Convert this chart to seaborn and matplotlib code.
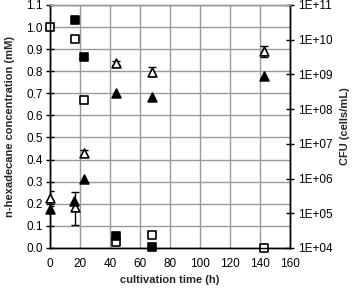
import numpy as np
import matplotlib
matplotlib.use("Agg")
import matplotlib.pyplot as plt
import seaborn as sns

# hexadecane concentration (mM), left axis
sq_open_t = [0, 17, 23, 44, 68, 143]
sq_open_c = [1.0, 0.945, 0.67, 0.025, 0.06, 0.0]
sq_fill_t = [17, 23, 44, 68]
sq_fill_c = [1.03, 0.865, 0.055, 0.005]

# CFU (cells/mL), right axis
tri_open_t = [0, 17, 23, 44, 68, 143]
tri_open_cfu = [2.7e5, 1.5e5, 5.5e6, 2.1e9, 1.2e9, 4.6e9]
tri_open_lo = [1.6e5, 4.6e4, 4.4e6, 1.8e9, 9.2e8, 3.1e9]
tri_open_hi = [4.5e5, 4.1e5, 6.8e6, 2.4e9, 1.65e9, 6.6e9]
tri_fill_t = [0, 16, 23, 44, 68, 143]
tri_fill_cfu = [1.3e5, 2.2e5, 1.0e6, 2.9e8, 2.3e8, 9.2e8]

x_ticks = [0, 20, 40, 60, 80, 100, 120, 140, 160]
y_ticks = [0.0, 0.1, 0.2, 0.3, 0.4, 0.5, 0.6, 0.7, 0.8, 0.9, 1.0, 1.1]
cfu_ticks = [1e4, 1e5, 1e6, 1e7, 1e8, 1e9, 1e10, 1e11]

sns.set_style("white")
plt.rcParams["font.family"] = ["Liberation Sans", "DejaVu Sans"]

fig = plt.figure(figsize=(3.56, 2.89), dpi=100)
ax = fig.add_axes([0.1404, 0.142, 0.6742, 0.841])
ax2 = ax.twinx()

grid_c = "#9a9a9a"
mk = dict(s=40, edgecolor="black", linewidth=1.2, clip_on=False, zorder=5, legend=False)
sns.scatterplot(x=sq_open_t, y=sq_open_c, ax=ax, marker="s", color="white", **mk)
sns.scatterplot(x=sq_fill_t, y=sq_fill_c, ax=ax, marker="s", color="black", **mk)

ax2.errorbar(tri_open_t, tri_open_cfu,
             yerr=[np.array(tri_open_cfu) - np.array(tri_open_lo),
                   np.array(tri_open_hi) - np.array(tri_open_cfu)],
             fmt="none", ecolor="black", elinewidth=1.0, capsize=3, capthick=1.0, zorder=4)
sns.scatterplot(x=tri_open_t, y=tri_open_cfu, ax=ax2, marker="^", color="white", **mk)
sns.scatterplot(x=tri_fill_t, y=tri_fill_cfu, ax=ax2, marker="^", color="black", **mk)

ax.set_xlim(0, 160)
ax.set_ylim(0, 1.1)
ax.set_xticks(x_ticks, labels=[str(v) for v in x_ticks])
ax.set_yticks(y_ticks, labels=[f"{v:.1f}" for v in y_ticks])
ax.grid(True, color=grid_c, lw=1.0)
ax.set_axisbelow(True)

ax2.set_yscale("log")
ax2.set_ylim(1e4, 1e11)
ax2.minorticks_off()
ax2.set_yticks(cfu_ticks, labels=[f"1E+{int(np.log10(v)):02d}" for v in cfu_ticks])

for a in (ax, ax2):
    for s in a.spines.values():
        s.set_color("black")
        s.set_linewidth(1.0)
    a.spines["top"].set_color(grid_c)
    a.tick_params(direction="inout", length=6, width=1.0, labelsize=8.5, colors="black", pad=2)
ax.tick_params(axis="x", pad=4)
ax2.tick_params(axis="y", pad=3)

ax.set_xlabel("cultivation time (h)", fontsize=8, fontweight="bold", labelpad=4)
ax.set_ylabel("n-hexadecane concentration (mM)", fontsize=8, fontweight="bold", labelpad=8)
ax2.set_ylabel("CFU (cells/mL)", fontsize=8, fontweight="bold", labelpad=5)

fig.savefig("out.png", dpi=100)
